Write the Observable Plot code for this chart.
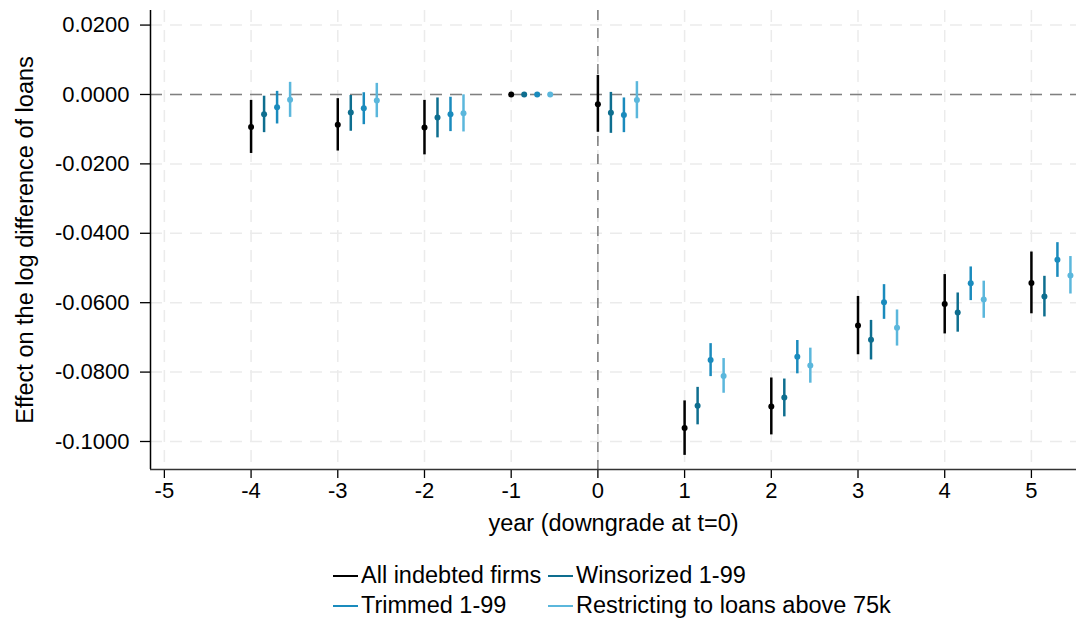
<!DOCTYPE html>
<html><head><meta charset="utf-8">
<script src="https://cdn.jsdelivr.net/npm/d3@7"></script>
<script src="https://cdn.jsdelivr.net/npm/@observablehq/plot@0.6"></script>
<style>
body{margin:0;background:#fff;font-family:"Liberation Sans",Arial,sans-serif;}
#chart{position:relative;width:1076px;height:622px;overflow:hidden;}
.lg{position:absolute;font-size:23.5px;color:#000;display:flex;align-items:center;white-space:nowrap;line-height:1;}
.lg span.sw{display:inline-block;width:25px;height:2px;margin-right:3px;}
</style></head><body><div id="chart"></div>
<script>
// Event-study years
const years = [-4, -3, -2, -1, 0, 1, 2, 3, 4, 5];
const xTicks = [-5, -4, -3, -2, -1, 0, 1, 2, 3, 4, 5];
const yTicks = [0.02, 0, -0.02, -0.04, -0.06, -0.08, -0.1];

const seriesNames = ["All indebted firms", "Winsorized 1-99", "Trimmed 1-99", "Restricting to loans above 75k"];
const seriesColors = ["#000000", "#0e6e8f", "#1a8bbd", "#5bb7dc"];

// Point estimates and 95% CI bounds
const allFirms   = [-0.0094, -0.0087, -0.0095, 0, -0.0028, -0.0961, -0.0899, -0.0666, -0.0604, -0.0543];
const allFirmsLo = [-0.0170, -0.0163, -0.0174, 0, -0.0109, -0.1040, -0.0981, -0.0750, -0.0690, -0.0632];
const allFirmsHi = [-0.0017, -0.0012, -0.0017, 0,  0.0055, -0.0883, -0.0817, -0.0582, -0.0519, -0.0454];

const winsorized   = [-0.0057, -0.0052, -0.0066, 0, -0.0053, -0.0897, -0.0873, -0.0707, -0.0628, -0.0582];
const winsorizedLo = [-0.0110, -0.0106, -0.0125, 0, -0.0112, -0.0952, -0.0929, -0.0765, -0.0685, -0.0641];
const winsorizedHi = [-0.0005, -0.0003, -0.0010, 0,  0.0006, -0.0844, -0.0820, -0.0651, -0.0572, -0.0524];

const trimmed   = [-0.0037, -0.0040, -0.0057, 0, -0.0059, -0.0765, -0.0756, -0.0599, -0.0544, -0.0476];
const trimmedLo = [-0.0085, -0.0087, -0.0107, 0, -0.0110, -0.0813, -0.0805, -0.0648, -0.0594, -0.0527];
const trimmedHi = [ 0.0009,  0.0005, -0.0008, 0, -0.0010, -0.0718, -0.0709, -0.0548, -0.0497, -0.0427];

const restricted   = [-0.0015, -0.0017, -0.0054, 0, -0.0016, -0.0811, -0.0781, -0.0672, -0.0591, -0.0522];
const restrictedLo = [-0.0066, -0.0067, -0.0108, 0, -0.0070, -0.0861, -0.0832, -0.0725, -0.0645, -0.0575];
const restrictedHi = [ 0.0035,  0.0032, -0.0001, 0,  0.0037, -0.0761, -0.0731, -0.0621, -0.0538, -0.0467];

const est = [allFirms, winsorized, trimmed, restricted];
const lo = [allFirmsLo, winsorizedLo, trimmedLo, restrictedLo];
const hi = [allFirmsHi, winsorizedHi, trimmedHi, restrictedHi];

const DODGE = 0.15;
const rows = [];
est.forEach((s, i) => {
  years.forEach((yr, j) => {
    rows.push({x: yr + i * DODGE, est: s[j], lo: lo[i][j], hi: hi[i][j], color: seriesColors[i], series: seriesNames[i]});
  });
});

const X0 = -5.16, X1 = 5.52, Y0 = -0.10807, Y1 = 0.0242;

const chart = Plot.plot({
  width: 1076, height: 545,
  marginLeft: 150, marginRight: 0, marginTop: 10, marginBottom: 76,
  style: {fontFamily: "'Liberation Sans', Arial, sans-serif", fontSize: "22px", color: "#000", background: "#fff", overflow: "visible"},
  x: {domain: [X0, X1]},
  y: {domain: [Y0, Y1]},
  color: {type: "identity"},
  marks: [
    Plot.gridX(xTicks, {stroke: "#ebebeb", strokeOpacity: 1, strokeWidth: 1.5, strokeDasharray: "12,8"}),
    Plot.gridY(yTicks, {stroke: "#ebebeb", strokeOpacity: 1, strokeWidth: 1.5, strokeDasharray: "12,8"}),
    Plot.ruleY([0], {stroke: "#808080", strokeWidth: 1.3, strokeDasharray: "12,8"}),
    Plot.ruleX([0], {stroke: "#666666", strokeWidth: 1.3, strokeDasharray: "10,8"}),
    Plot.ruleX(rows, {x: "x", y1: "lo", y2: "hi", stroke: "color", strokeWidth: 2.5}),
    Plot.dot(rows, {x: "x", y: "est", fill: "color", r: 3}),
    Plot.axisY(yTicks, {tickSize: 10, tickPadding: 11, strokeWidth: 1.3, tickFormat: d => d.toFixed(4), label: null}),
    Plot.axisX(xTicks, {tickSize: 9, tickPadding: 4, strokeWidth: 1.3, tickFormat: d => String(d), label: null}),
    Plot.text(["Effect on the log difference of loans"], {frameAnchor: "left", dx: -125, rotate: -90, lineAnchor: "middle", textAnchor: "middle", fontSize: 23.5, fill: "#000"}),
    Plot.text(["year (downgrade at t=0)"], {frameAnchor: "bottom", dy: 54, lineAnchor: "middle", textAnchor: "middle", fontSize: 23.5, fill: "#000"}),
    Plot.ruleX([X0], {stroke: "#000", strokeWidth: 1.5}),
    Plot.ruleY([Y0], {stroke: "#333", strokeWidth: 1.5})
  ]
});
const root = document.getElementById("chart");
root.appendChild(chart);

// legend (HTML, below the svg)
const legendPos = [[333, 576], [548, 576], [333, 606], [548, 606]];
seriesNames.forEach((name, i) => {
  const d = document.createElement("div");
  d.className = "lg";
  d.style.left = legendPos[i][0] + "px";
  d.style.top = (legendPos[i][1] - 12) + "px";
  d.style.height = "24px";
  d.innerHTML = `<span class="sw" style="background:${seriesColors[i]}"></span>${name}`;
  root.appendChild(d);
});
</script></body></html>
